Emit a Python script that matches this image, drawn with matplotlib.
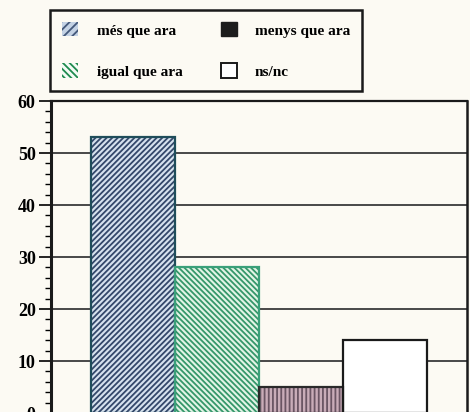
import matplotlib.pyplot as plt
from matplotlib.patches import Patch
from matplotlib.ticker import MultipleLocator

categories = ['més que ara', 'igual que ara', 'menys que ara', 'ns/nc']
values = [53, 28, 5, 14]

face = ['#d6e2ee', '#e2f4e6', '#c9acb8', '#ffffff']
hatch_col = ['#34486a', '#35976a', '#6a5563', '#ffffff']
edge = ['#1f4d5a', '#3aa07a', '#2a2a2a', '#1a1a1a']
hatches = ['//////', '\\\\\\\\\\\\', '||||', '']

plt.rcParams['font.family'] = ['Liberation Serif', 'DejaVu Serif']
plt.rcParams['font.weight'] = 'bold'
plt.rcParams['hatch.linewidth'] = 1.3

bg = '#fcfaf3'
fig = plt.figure(figsize=(4.7, 4.12), dpi=100, facecolor=bg)
ax = fig.add_axes([51 / 470, -1 / 412, 416 / 470, 312 / 412])
ax.set_facecolor(bg)

x = range(len(values))
ax.bar(x, values, width=1.0, color=face, edgecolor=hatch_col, hatch=hatches,
       linewidth=0, zorder=2)
ax.bar(x, values, width=1.0, fill=False, edgecolor=edge, linewidth=1.6, zorder=3)

ax.set_xlim(-0.976, 3.976)
ax.set_ylim(0, 60)
ax.yaxis.set_major_locator(MultipleLocator(10))
ax.yaxis.set_minor_locator(MultipleLocator(2))
ax.set_xticks([])
ax.grid(axis='y', color='#3a3a3a', linewidth=1.3, zorder=1)
ax.tick_params(axis='y', which='major', length=9, width=1.2, labelsize=13, pad=2)
ax.tick_params(axis='y', which='minor', length=4, width=1)
for lab in ax.get_yticklabels():
    lab.set_fontweight('bold')

ax.spines['left'].set_linewidth(2.2)
ax.spines['top'].set_linewidth(1.6)
ax.spines['right'].set_linewidth(1.8)
ax.spines['bottom'].set_visible(False)
for s in ax.spines.values():
    s.set_color('#1a1a1a')

handles = [
    Patch(facecolor='#c4d2e4', edgecolor='#44587a', hatch='////', linewidth=0),
    Patch(facecolor='#f4fbf5', edgecolor='#1f8a4e', hatch='\\\\\\\\\\', linewidth=0),
    Patch(facecolor='#1c1c1c', edgecolor='#1c1c1c'),
    Patch(facecolor='#ffffff', edgecolor='#1a1a1a', linewidth=1.4),
]
leg = fig.legend(handles, categories, loc='upper left', bbox_to_anchor=(50 / 470, 1 - 10 / 412),
                 ncol=2, fontsize=11, frameon=True, fancybox=False, framealpha=1,
                 handlelength=1.05, handleheight=1.05, handletextpad=1.2,
                 columnspacing=2.5, labelspacing=1.7, borderpad=0.8,
                 borderaxespad=0)
leg.get_frame().set_edgecolor('#1a1a1a')
leg.get_frame().set_linewidth(1.8)
leg.get_frame().set_facecolor(bg)
for t in leg.get_texts():
    t.set_fontweight('bold')

fig.savefig('out.png', dpi=100, facecolor=bg)
